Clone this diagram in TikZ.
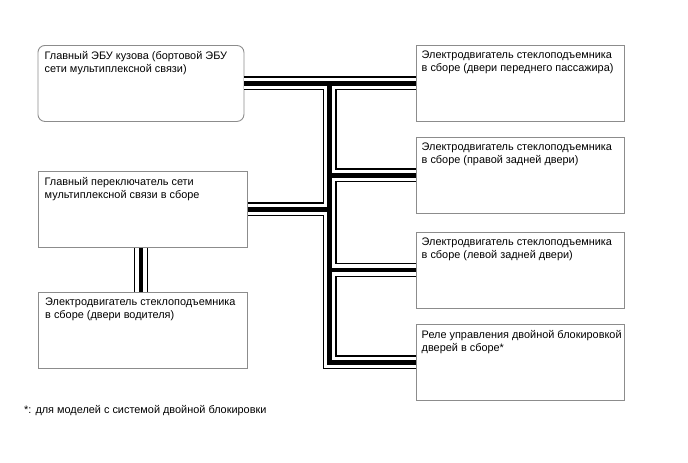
\documentclass[tikz,border=0pt]{standalone}
\usepackage{fontspec}
\setmainfont{Liberation Sans}
\begin{document}
\begin{tikzpicture}[x=1pt,y=-1pt,
  box/.style={draw=black!45,line width=0.9pt,fill=white,inner sep=0pt,anchor=north west},
  txt/.style={anchor=north west,align=left,inner sep=0pt,font=\fontsize{10.9}{12.8}\selectfont},
  busout/.style={line width=14pt,black,line join=miter},
  busmid/.style={line width=11.2pt,white,line join=miter},
  buscore/.style={line width=4.4pt,black,line join=miter}]
\useasboundingbox (0,0) rectangle (688,463);
% left boxes
\node[box,rounded corners=7pt,minimum width=206pt,minimum height=76pt] (A) at (37.5,45) {};
\node[box,minimum width=209pt,minimum height=76pt] (B) at (38,171) {};
\node[box,minimum width=209pt,minimum height=76pt] (C) at (38,292) {};
% right boxes
\node[box,minimum width=208pt,minimum height=76pt] (R1) at (416,45) {};
\node[box,minimum width=208pt,minimum height=76pt] (R2) at (416,137) {};
\node[box,minimum width=208pt,minimum height=76pt] (R3) at (416,231.5) {};
\node[box,minimum width=208pt,minimum height=76pt] (R4) at (416,324) {};
% texts
\node[txt] (tA) at ([xshift=7pt,yshift=-6pt]A.north west) {Главный ЭБУ кузова (бортовой ЭБУ\\сети мультиплексной связи)};
\node[txt] (tB) at ([xshift=6.5pt,yshift=-6pt]B.north west) {Главный переключатель сети\\мультиплексной связи в сборе};
\node[txt] (tC) at ([xshift=7pt,yshift=-6pt]C.north west) {Электродвигатель стеклоподъемника\\в сборе (двери водителя)};
\node[txt] (t1) at ([xshift=5.5pt,yshift=-6pt]R1.north west) {Электродвигатель стеклоподъемника\\в сборе (двери переднего пассажира)};
\node[txt] (t2) at ([xshift=5.5pt,yshift=-6pt]R2.north west) {Электродвигатель стеклоподъемника\\в сборе (правой задней двери)};
\node[txt] (t3) at ([xshift=5.5pt,yshift=-6pt]R3.north west) {Электродвигатель стеклоподъемника\\в сборе (левой задней двери)};
\node[txt] (t4) at ([xshift=5.5pt,yshift=-6pt]R4.north west) {Реле управления двойной блокировкой\\дверей в сборе*};
\node[txt,anchor=base west] (note) at (24,413) {*: для моделей с системой двойной блокировки};
% bus
\coordinate (T) at (329.5,83);
\newcommand\drawbus[1]{%
  \draw[#1] (A.east) -- (R1.west);
  \draw[#1] (T) |- (R4.west);
  \draw[#1] (T |- R2.west) -- (R2.west);
  \draw[#1] (T |- R3.west) -- (R3.west);
  \draw[#1] (B.east) -- (B.east -| T);
  \draw[#1] ([xshift=-2pt]B.south) -- ([xshift=-2pt]C.north);
}
\drawbus{busout}
\drawbus{busmid}
\drawbus{buscore}
\end{tikzpicture}
\end{document}
